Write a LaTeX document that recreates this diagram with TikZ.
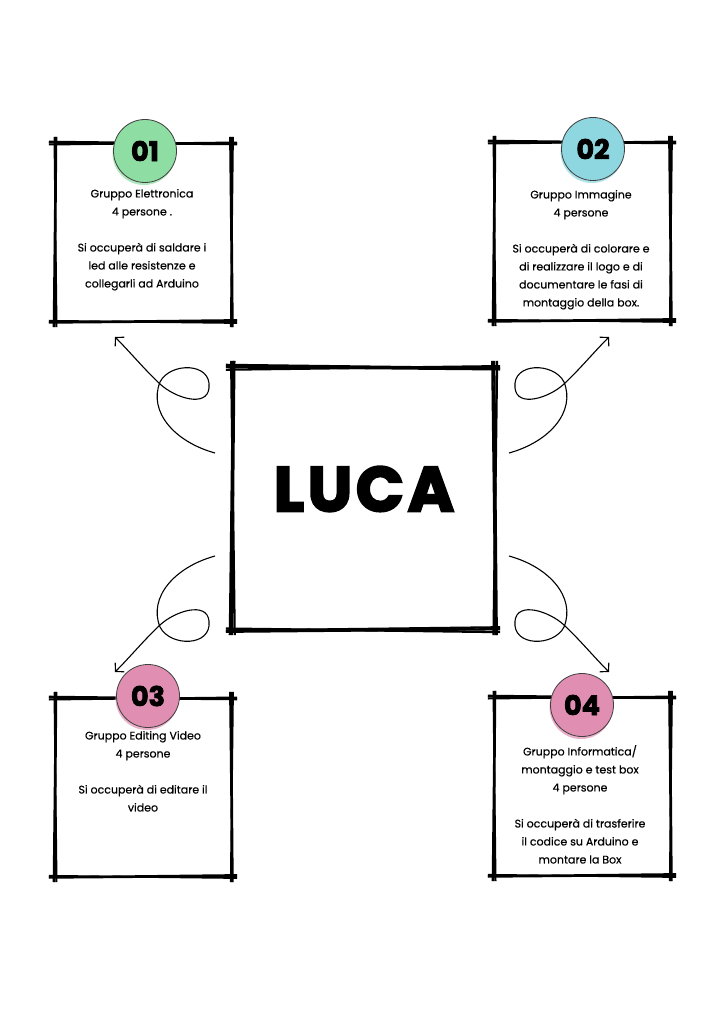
\documentclass[tikz,border=0pt]{standalone}
\usepackage{fontspec}
\setmainfont{Poppins}
\usepackage{tikz}
\usetikzlibrary{calc,positioning,arrows.meta}
\definecolor{verde}{HTML}{8EDDA2}
\definecolor{azzurro}{HTML}{8ED6E0}
\definecolor{rosa}{HTML}{E08FB2}
\newcommand\sketchframe[3]{%
  \foreach \o/\p in {0/1.6,1.8/-0.4,-1.2/0.9}{%
    \draw[line width=#2] ($(#1.north west)+(-6,#3*\o)$) -- ($(#1.north east)+(6,#3*\p)$);
    \draw[line width=#2] ($(#1.south west)+(-6,#3*\p)$) -- ($(#1.south east)+(6,#3*\o)$);
    \draw[line width=#2] ($(#1.north west)+(#3*\p,-6)$) -- ($(#1.south west)+(#3*\o,6)$);
    \draw[line width=#2] ($(#1.north east)+(#3*\o,-6)$) -- ($(#1.south east)+(#3*\p,6)$);
  }}

\begin{document}
\begin{tikzpicture}[x=1pt,y=-1pt,
box/.style={minimum width=176pt, minimum height=178pt, inner sep=0pt},
num/.style={
	circle, draw=black!75, line width=0.8pt,
	minimum size=63pt, inner sep=0pt,
	font=\fontsize{27}{27}\selectfont\bfseries\addfontfeature{FakeBold=3}
},
info/.style={align=center, inner sep=0pt, font=\fontsize{11}{18}\selectfont\addfontfeature{FakeBold=0.5}},
curl/.style={line width=1.1pt, -{Straight Barb[length=6pt,width=13pt]}}
]
\fill[white] (0,0) rectangle (724,1024);
\useasboundingbox (0,0) rectangle (724,1024);
\node[box] (1) at (143,232) {};
\node[box] (2) at (582,231) {};
\node[box] (3) at (143,787) {};
\node[box] (4) at (582,786) {};
\node[box, minimum size=262pt] (L) at (363,498) {};
\foreach \i in {1,...,4}
	\sketchframe{\i}{1.8pt}{1};
\sketchframe{L}{2.3pt}{1.6};
\node[font=\fontsize{63}{63}\selectfont\bfseries\addfontfeature{LetterSpace=6,FakeBold=3.5}] (nome) at (364,489) {LUCA};
\fill[verde!70] (144,153.5) circle (31.5);
\node[num, fill=verde] (n1) at (145,151) {01};
\fill[azzurro!70] (592,151.5) circle (31.5);
\node[num, fill=azzurro] (n2) at (593,149) {02};
\fill[rosa!70] (147,698.5) circle (31.5);
\node[num, fill=rosa] (n3) at (148,696) {03};
\fill[rosa!70] (581,707.5) circle (31.5);
\node[num, fill=rosa] (n4) at (582,705) {04};
\node[info, below=6pt of n1, xshift=-3pt] (t1) {Gruppo Elettronica\\4 persone .\\[18pt]Si occuperà di saldare i\\led alle resistenze e\\collegarli ad Arduino};
\node[info, below=9pt of n2, xshift=-12pt] (t2) {Gruppo Immagine\\4 persone\\[18pt]Si occuperà di colorare e\\di realizzare il logo e di\\documentare le fasi di\\montaggio della box.};
\node[info, below=3pt of n3, xshift=-5pt] (t3) {Gruppo Editing Video\\4 persone\\[18pt]Si occuperà di editare il\\video};
\node[info, below=8pt of n4, xshift=-2pt] (t4) {Gruppo Informatica/\\montaggio e test box\\4 persone\\[18pt]Si occuperà di trasferire\\il codice su Arduino e\\montare la Box};
\foreach \sx/\sy in {1/1,-1/1,1/-1,-1/-1}
	\draw[curl, shift={(362,504.5)}, xscale=\sx, yscale=\sy]
		(-147,-51.5) .. controls (-187,-62.5) and (-214,-92.5) .. (-202,-122.5)
		.. controls (-192,-142.5) and (-150,-142.5) .. (-153,-116.5)
		.. controls (-155,-96.5) and (-187,-106.5) .. (-202,-120.5)
		.. controls (-217,-134.5) and (-232,-152.5) .. (-247,-167.5);
\end{tikzpicture}
\end{document}
